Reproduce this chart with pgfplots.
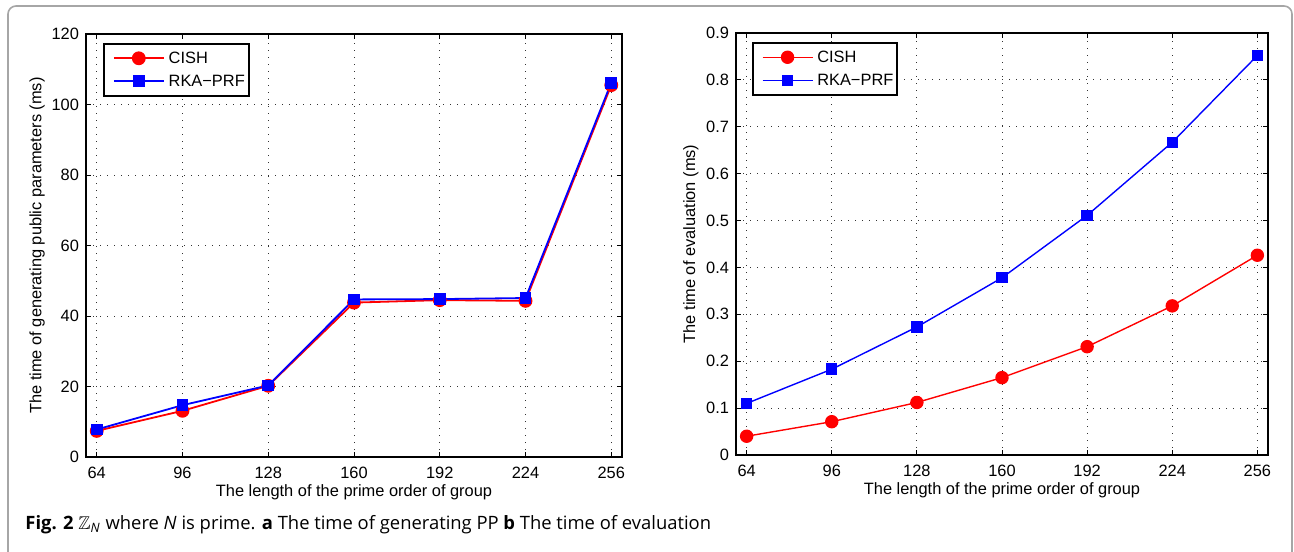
\documentclass[border=0pt]{standalone}
\usepackage{pgfplots}
\pgfplotsset{compat=1.18}
\usepackage{amssymb}
\usepackage{fontspec}
\setmainfont{Liberation Sans}
\newfontfamily\capfont{Open Sans}

\definecolor{mred}{rgb}{1,0,0}
\definecolor{mblue}{rgb}{0,0,1}

\pgfplotsset{
  matlab/.style={
    scale only axis,
    xmin=60, xmax=260,
    xtick={64,96,128,160,192,224,256},
    tick align=inside, tick pos=both, major tick length=2.5pt,
    grid=major,
    grid style={black!80, dash pattern=on 0.5pt off 3pt, line width=0.4pt},
    axis line style={line width=0.6pt},
    every tick/.style={black, line width=0.5pt},
    ticklabel style={font=\fontsize{8.2}{9}\selectfont},
    xticklabel style={yshift=-1.5pt},
    label style={font=\fontsize{8.2}{9}\selectfont},
    xlabel shift=-4pt,
    /pgf/number format/assume math mode=true,
    xlabel={The length of the prime order of group},
    legend style={font=\fontsize{8.2}{10}\selectfont, draw=black, line width=0.9pt,
      anchor=north west, cells={anchor=west}, row sep=0pt,
      inner xsep=1pt, inner ysep=1.5pt,
      nodes={inner xsep=1pt, inner ysep=1pt, text height=0.75em, text depth=0.2em}},
    legend image code/.code={\path (-3.5pt,0pt) (26pt,0pt);
      \draw[mark repeat=2,mark phase=2,#1]
      plot coordinates {(0pt,0pt) (12.5pt,0pt) (25pt,0pt)};},
  },
  cish/.style={mred, line width=0.9pt, mark=*, mark size=3pt, mark options={solid, fill=mred, draw=mred}},
  rka/.style={mblue, line width=0.9pt, mark=square*, mark size=2.5pt, mark options={solid, fill=mblue, draw=mblue}},
}

\begin{document}
\begin{tikzpicture}
\useasboundingbox (0,0) rectangle (647pt,-275.5pt);
\draw[gray!70, line width=0.8pt, rounded corners=4pt] (4pt,-3pt) rectangle (646pt,-285pt);

% (a) public parameters
\begin{axis}[matlab,
  at={(43pt,-17pt)}, anchor=north west,
  width=268pt, height=211.5pt,
  ymin=0, ymax=120, ytick={0,20,40,60,80,100,120},
  ylabel={The time of generating public parameters (ms)},
  ylabel shift=-3.5pt,
  legend style={at={(0.0317,0.979)}},
]
\addplot[cish] coordinates {(64,7.4) (96,13.1) (128,20.2) (160,43.8) (192,44.5) (224,44.3) (256,105.5)};
\addplot[rka] coordinates {(64,7.8) (96,14.7) (128,20.3) (160,44.7) (192,44.8) (224,45.1) (256,106.2)};
\legend{CISH, RKA−PRF}
\end{axis}

% (b) evaluation
\begin{axis}[matlab,
  at={(368pt,-16.5pt)}, anchor=north west,
  width=266pt, height=211pt,
  ymin=0, ymax=0.9, ytick={0,0.1,0.2,0.3,0.4,0.5,0.6,0.7,0.8,0.9},
  ylabel={The time of evaluation (ms)},
  ylabel shift=-3pt,
  legend style={at={(0.030,0.979)}},
]
\addplot[cish, line width=0.7pt] coordinates {(64,0.040) (96,0.071) (128,0.112) (160,0.165) (192,0.231) (224,0.318) (256,0.426)};
\addplot[rka, line width=0.7pt] coordinates {(64,0.110) (96,0.183) (128,0.273) (160,0.378) (192,0.511) (224,0.667) (256,0.852)};
\legend{CISH, RKA−PRF}
\end{axis}

\node[anchor=base west, inner sep=0] at (12.5pt,-264.5pt)
  {\capfont\fontsize{9.2}{11}\selectfont \textbf{Fig. 2} $\mathbb{Z}$\textsubscript{\textit{N}} where \textit{N} is prime. \textbf{a} The time of generating PP \textbf{b} The time of evaluation};
\end{tikzpicture}
\end{document}
